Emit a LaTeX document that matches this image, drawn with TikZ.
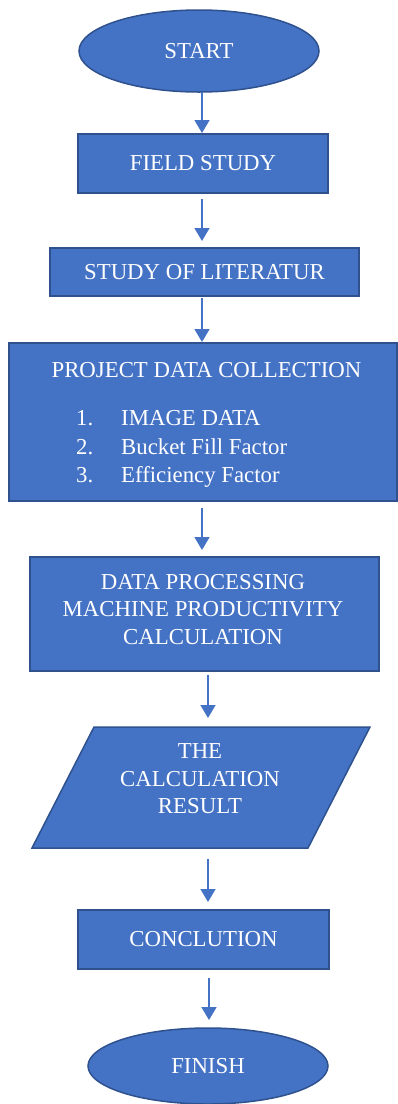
\documentclass[tikz,border=0pt]{standalone}
\usepackage{fontspec}
\setmainfont{Liberation Serif}
\usetikzlibrary{arrows.meta,shapes.geometric}
\definecolor{boxfill}{HTML}{4472C4}
\definecolor{boxedge}{HTML}{2F528F}
\definecolor{flowline}{HTML}{4472C4}
\begin{document}
\begin{tikzpicture}[x=1pt,y=-1pt,
  txt/.style={text=white,font=\fontsize{22.8}{27.5}\selectfont,inner sep=0pt},
  blk/.style={txt,draw=boxedge,fill=boxfill,line width=1.5pt,outer sep=0pt},
  procbox/.style={blk,rectangle},
  termbox/.style={blk,ellipse},
  flow/.style={draw=flowline,line width=1.5pt,-{Triangle[width=15pt,length=13pt]}},
]
\useasboundingbox (0,0) rectangle (398,1104);

% columns of the connectors
\coordinate (colA) at (202,0);
\coordinate (colB) at (208,0);
\coordinate (colC) at (209,0);

% terminals and process boxes
\node[termbox,minimum width=240,minimum height=82] (start) at (199,51) {START};
\node[procbox,minimum width=250,minimum height=59] (field) at (203,163.5) {FIELD STUDY};
\node[procbox,minimum width=309,minimum height=48] (lit) at (204.5,272) {STUDY OF LITERATUR};

% data collection box with its list
\node[procbox,minimum width=388,minimum height=158] (proj) at (203,422) {};
\node[txt,anchor=base] (projtitle) at (206.5,377.6) {PROJECT DATA COLLECTION};
\node[txt,anchor=base west] (n1) at (76,425.6) {1.};
\node[txt,anchor=base west] (n2) at (76,454.6) {2.};
\node[txt,anchor=base west] (n3) at (76,482.6) {3.};
\node[txt,anchor=base west] (i1) at (121,425.6) {IMAGE DATA};
\node[txt,anchor=base west] (i2) at (121,454.6) {Bucket Fill Factor};
\node[txt,anchor=base west] (i3) at (121,482.6) {Efficiency Factor};

% processing box
\node[procbox,minimum width=349,minimum height=114] (dp) at (204.5,614) {};
\node[txt,align=center] (dptext) at (203,609.5) {DATA PROCESSING\\MACHINE PRODUCTIVITY\\CALCULATION};

% result (parallelogram)
\node[minimum width=338,minimum height=121,inner sep=0pt,outer sep=0pt] (res) at (201,787.5) {};
\draw[draw=boxedge,fill=boxfill,line width=1.5pt]
  ([xshift=62pt]res.north west) -- (res.north east)
  -- ([xshift=-62pt]res.south east) -- (res.south west) -- cycle;
\node[txt,align=center] (restext) at (200,779) {THE\\CALCULATION\\RESULT};

\node[procbox,minimum width=251,minimum height=59] (concl) at (203.5,939.5) {CONCLUTION};
\node[termbox,minimum width=240,minimum height=76] (fin) at (208,1066) {FINISH};

% connectors
\draw[flow,shorten >=1pt] (start.south -| colA) -- (field.north -| colA);
\draw[flow,shorten <=6pt,shorten >=7pt] (field.south -| colA) -- (lit.north -| colA);
\draw[flow,shorten <=2pt,shorten >=1pt] (lit.south -| colA) -- (proj.north -| colA);
\draw[flow,shorten <=7pt,shorten >=7pt] (proj.south -| colA) -- (dp.north -| colA);
\draw[flow,shorten <=4pt,shorten >=9pt] (dp.south -| colB) -- (res.north -| colB);
\draw[flow,shorten <=11pt,shorten >=8pt] (res.south -| colB) -- (concl.north -| colB);
\draw[flow,shorten <=9pt,shorten >=8pt] (concl.south -| colC) -- (fin.north -| colC);
\end{tikzpicture}
\end{document}
